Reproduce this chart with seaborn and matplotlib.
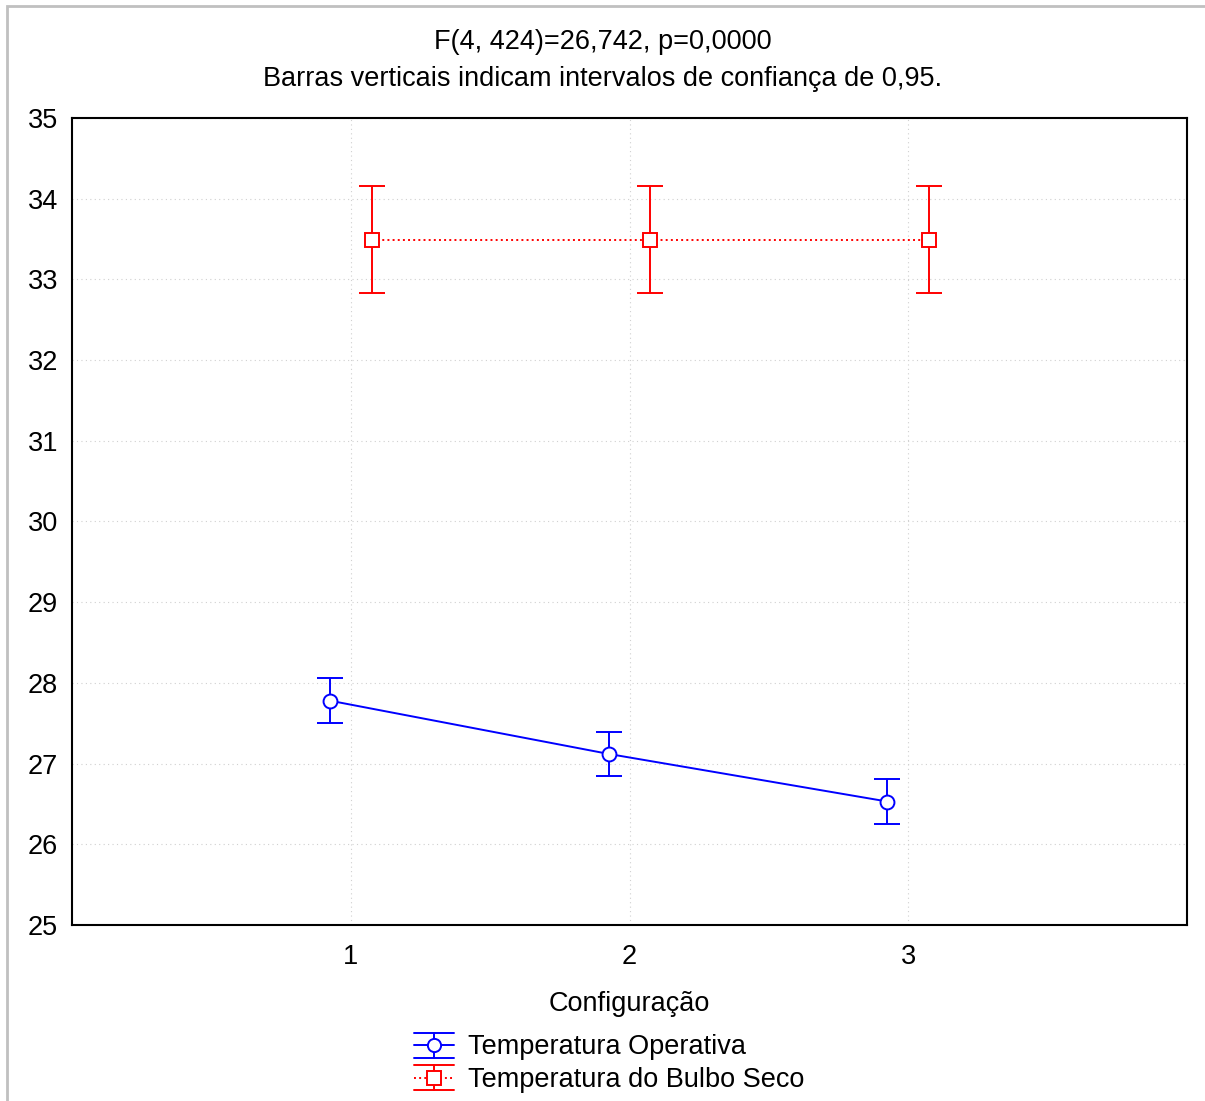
import matplotlib
matplotlib.use("Agg")
import matplotlib.pyplot as plt
import pandas as pd
import seaborn as sns
from matplotlib.patches import Rectangle
from matplotlib.lines import Line2D
from matplotlib.legend_handler import HandlerBase

# Mean temperature per configuration with 0.95 confidence limits
config = [1, 2, 3]
op_mean = [27.78, 27.12, 26.53]
op_low = [27.50, 26.85, 26.25]
op_high = [28.06, 27.39, 26.81]
dry_mean = [33.49, 33.49, 33.49]
dry_low = [32.83, 32.83, 32.83]
dry_high = [34.16, 34.16, 34.16]
series_names = ["Temperatura Operativa", "Temperatura do Bulbo Seco"]
y_ticks = [25, 26, 27, 28, 29, 30, 31, 32, 33, 34, 35]

sns.set_style("white")
plt.rcParams["font.family"] = ["Liberation Sans", "DejaVu Sans"]
plt.rcParams["text.color"] = "black"
plt.rcParams["axes.labelcolor"] = "black"

FS = 19.5
W, H = 1205, 1101
fig = plt.figure(figsize=(W / 100, H / 100), dpi=100)
ax = fig.add_axes([72 / W, 1 - 925 / H, 1115 / W, 807 / H])

dodge = 0.075
op = pd.DataFrame({"x": [c - dodge for c in config], "mean": op_mean,
                   "low": op_low, "high": op_high})
dry = pd.DataFrame({"x": [c + dodge for c in config], "mean": dry_mean,
                    "low": dry_low, "high": dry_high})

LW = 1.4
styles = [
    (op, "#0000ff", "-", "o"),
    (dry, "#ff0000", ":", "s"),
]


class ErrKey:
    """Legend key: line, marker, vertical bar and full-width caps."""
    def __init__(self, color, ls, marker):
        self.color, self.ls, self.marker = color, ls, marker


class ErrKeyHandler(HandlerBase):
    def create_artists(self, legend, orig, xd, yd, width, height, fontsize,
                       trans):
        cy = height / 2 - yd
        x0, x1 = -xd, width - xd
        xm = (x0 + x1) / 2
        h = 9.0
        arts = [
            Line2D([x0, x1], [cy, cy], color=orig.color, ls=orig.ls, lw=LW),
            Line2D([xm, xm], [cy - h, cy + h], color=orig.color, lw=LW),
            Line2D([x0, x1], [cy + h, cy + h], color=orig.color, lw=LW),
            Line2D([x0, x1], [cy - h, cy - h], color=orig.color, lw=LW),
            Line2D([xm], [cy], marker=orig.marker, ms=9.5, mfc="white",
                   mec=orig.color, mew=LW, ls="none"),
        ]
        for a in arts:
            a.set_transform(trans)
        return arts


keys = []
for (df, color, ls, marker), name in zip(styles, series_names):
    sns.lineplot(data=df, x="x", y="mean", ax=ax, color=color, linestyle=ls,
                 linewidth=LW, marker=None, legend=False, zorder=2)
    err = [df["mean"] - df["low"], df["high"] - df["mean"]]
    ax.errorbar(df["x"], df["mean"], yerr=err, fmt=marker, color=color,
                mfc="white", mec=color, mew=LW, ms=10, elinewidth=LW,
                capsize=9.7, capthick=LW, linestyle="none", zorder=3)
    keys.append(ErrKey(color, ls, marker))

ax.set_xlim(0, 4)
ax.set_ylim(25, 35)
ax.set_xticks(config)
ax.set_yticks(y_ticks)
ax.tick_params(direction="in", length=5, width=1, colors="black",
               labelsize=FS, pad=14)
ax.tick_params(axis="y", pad=10)
ax.grid(True, linestyle=(0, (1, 3)), color="#d0d0d0", linewidth=0.8)
ax.set_axisbelow(True)
for sp in ax.spines.values():
    sp.set_color("black")
    sp.set_linewidth(1.5)

ax.set_xlabel("Configuração", fontsize=FS, labelpad=15)
ax.set_ylabel("")

fig.text(0.5, 1 - 42 / H, "F(4, 424)=26,742, p=0,0000", ha="center",
         va="center", fontsize=FS)
fig.text(0.5, 1 - 79 / H,
         "Barras verticais indicam intervalos de confiança de 0,95.",
         ha="center", va="center", fontsize=FS)

fig.legend(handles=keys, labels=series_names, loc="center",
           handler_map={ErrKey: ErrKeyHandler()},
           bbox_to_anchor=(609 / W, 1 - 1063 / H), frameon=False,
           fontsize=FS, handlelength=1.5, handleheight=1.0,
           handletextpad=0.5, labelspacing=0.2, borderpad=0)

# Outer frame of the figure
fig.patches.append(Rectangle((7 / W, -0.1), 1.2, 1 - 6 / H + 0.1,
                             transform=fig.transFigure, fill=False,
                             edgecolor="#c0c0c0", linewidth=2))

fig.savefig("out.png", dpi=100)
